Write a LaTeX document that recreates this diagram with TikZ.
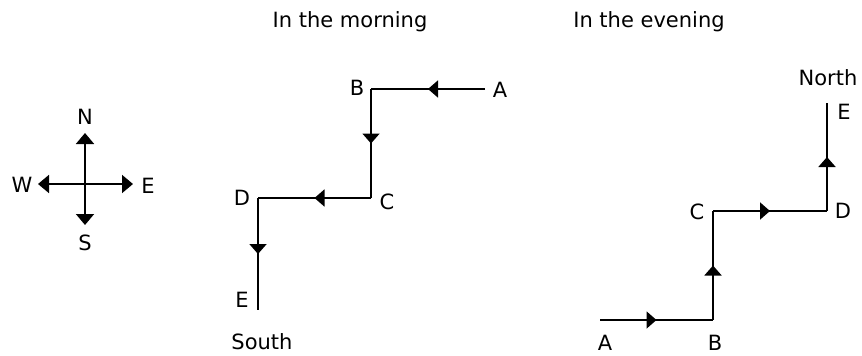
\documentclass[tikz,border=0pt]{standalone}
\usepackage{fontspec}
\setmainfont{DejaVu Sans}
\usetikzlibrary{arrows.meta,decorations.markings}
\tikzset{
	way/.style={line width=1.8pt},
	midarrow/.style={postaction={decorate},decoration={markings,mark=at position 0.5 with {\arrow{Triangle[length=10pt,width=17pt]}}}},
	lbl/.style={inner sep=0pt,font=\fontsize{21}{24}\selectfont}
}
\begin{document}
\begin{tikzpicture}[x=1pt,y=-1pt]
	\useasboundingbox (0,0) rectangle (862,356);

	%Kompass
	\coordinate (cN) at (85,133);
	\coordinate (cS) at (85,225);
	\coordinate (cW) at (38,184);
	\coordinate (cE) at (133,184);
	\draw[way,<->,>={Triangle[length=11pt,width=18pt]}] (cW) -- (cE);
	\draw[way,<->,>={Triangle[length=11pt,width=18pt]}] (cN) -- (cS);
	\node[lbl] (lN) at (85,117) {N};
	\node[lbl] (lS) at (85,243) {S};
	\node[lbl] (lW) at (22,185) {W};
	\node[lbl] (lE) at (148,186) {E};

	%Morgen
	\node[lbl] (tmorning) at (350,22) {In the morning};
	\coordinate (mA) at (485,89);
	\coordinate (mB) at (371,89);
	\coordinate (mC) at (371,198);
	\coordinate (mD) at (258,198);
	\coordinate (mE) at (258,310);
	\draw[way,midarrow] (mA) -- (mB);
	\draw[way,midarrow] (mB) -- (mC);
	\draw[way,midarrow] (mC) -- (mD);
	\draw[way,midarrow] (mD) -- (mE);
	\node[lbl] (lmA) at (500,90) {A};
	\node[lbl] (lmB) at (357,88) {B};
	\node[lbl] (lmC) at (387,202) {C};
	\node[lbl] (lmD) at (242,198) {D};
	\node[lbl] (lmE) at (242,300) {E};
	\node[lbl] (south) at (262,342) {South};

	%Abend
	\node[lbl] (tevening) at (649,22) {In the evening};
	\coordinate (eA) at (600,320);
	\coordinate (eB) at (713,320);
	\coordinate (eC) at (713,211);
	\coordinate (eD) at (827,211);
	\coordinate (eE) at (827,103);
	\draw[way,midarrow] (eA) -- (eB);
	\draw[way,midarrow] (eB) -- (eC);
	\draw[way,midarrow] (eC) -- (eD);
	\draw[way,midarrow] (eD) -- (eE);
	\node[lbl] (leA) at (605,343) {A};
	\node[lbl] (leB) at (715,343) {B};
	\node[lbl] (leC) at (697,212) {C};
	\node[lbl] (leD) at (843,211) {D};
	\node[lbl] (leE) at (844,112) {E};
	\node[lbl] (north) at (828,78) {North};
\end{tikzpicture}
\end{document}
